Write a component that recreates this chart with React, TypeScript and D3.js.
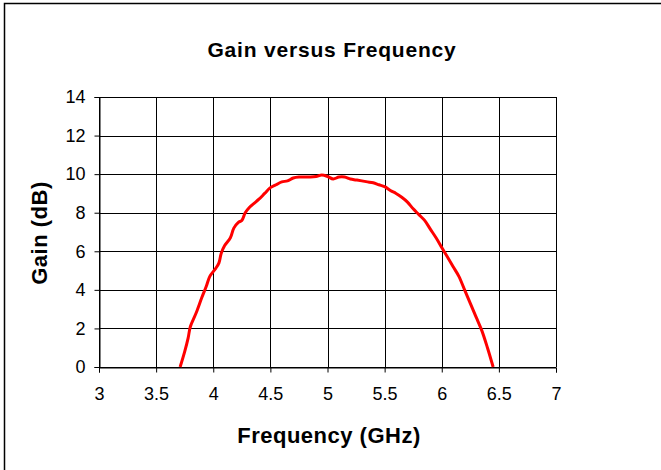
import React, { useEffect, useRef } from "react";
import * as d3 from "d3";

// frequency (GHz) and gain (dB)
const freq = [
  3.71, 3.75, 3.78, 3.8, 3.85, 3.9, 3.94, 3.97, 4.02, 4.05, 4.07, 4.1, 4.15, 4.18, 4.22, 4.25,
  4.28, 4.32, 4.36, 4.4, 4.45, 4.5, 4.55, 4.6, 4.65, 4.7, 4.75, 4.8, 4.85, 4.9, 4.95, 5.0,
  5.05, 5.1, 5.15, 5.2, 5.25, 5.3, 5.35, 5.4, 5.45, 5.5, 5.55, 5.6, 5.65, 5.7, 5.75, 5.8,
  5.85, 5.9, 5.95, 6.0, 6.05, 6.1, 6.15, 6.2, 6.25, 6.3, 6.35, 6.4, 6.45,
];
const gain = [
  0, 0.8, 1.5, 2.1, 2.8, 3.6, 4.2, 4.7, 5.1, 5.4, 5.9, 6.3, 6.7, 7.2, 7.5, 7.6,
  8.0, 8.3, 8.5, 8.7, 9.0, 9.3, 9.45, 9.6, 9.65, 9.8, 9.85, 9.85, 9.85, 9.88, 9.95, 9.88,
  9.75, 9.85, 9.85, 9.75, 9.7, 9.65, 9.6, 9.55, 9.45, 9.35, 9.15, 9.0, 8.8, 8.55, 8.2, 7.9,
  7.6, 7.15, 6.7, 6.2, 5.7, 5.2, 4.7, 4.0, 3.3, 2.6, 1.9, 1.0, 0,
];
const xTicks = [3, 3.5, 4, 4.5, 5, 5.5, 6, 6.5, 7];
const yTicks = [0, 2, 4, 6, 8, 10, 12, 14];

const W = 661, H = 470;
const margin = { left: 99, right: 105, top: 97, bottom: 103 };
const font = "Liberation Sans, Arial, sans-serif";

export default function App() {
  const ref = useRef<SVGSVGElement>(null);

  useEffect(() => {
    const svg = d3.select(ref.current);
    svg.selectAll("*").remove();
    const w = W - margin.left - margin.right;
    const h = H - margin.top - margin.bottom;

    svg.append("rect")
      .attr("x", 4.5).attr("y", 3.5)
      .attr("width", 700).attr("height", 500)
      .attr("fill", "white").attr("stroke", "black").attr("stroke-width", 1.5);

    const g = svg.append("g").attr("transform", `translate(${margin.left},${margin.top})`);

    const x = d3.scaleLinear().domain([3, 7]).range([0, w]);
    const y = d3.scaleLinear().domain([0, 14]).range([h, 0]);

    // grid
    g.selectAll(".vg").data(xTicks).join("line")
      .attr("x1", d => Math.round(x(d)) + 0.5).attr("x2", d => Math.round(x(d)) + 0.5)
      .attr("y1", 0).attr("y2", h)
      .attr("stroke", "#000").attr("stroke-width", 1);
    g.selectAll(".hg").data(yTicks).join("line")
      .attr("y1", d => Math.round(y(d)) + 0.5).attr("y2", d => Math.round(y(d)) + 0.5)
      .attr("x1", 0).attr("x2", w)
      .attr("stroke", "#000").attr("stroke-width", 1);

    const xAxis = g.append("g")
      .attr("transform", `translate(0,${h + 0.5})`)
      .call(d3.axisBottom(x).tickValues(xTicks).tickSize(5).tickPadding(15).tickFormat(d => String(d)));
    const yAxis = g.append("g")
      .attr("transform", "translate(0.5,0)")
      .call(d3.axisLeft(y).tickValues(yTicks).tickSize(5).tickPadding(9).tickFormat(d => String(d)));
    [xAxis, yAxis].forEach(a => {
      a.select(".domain").attr("stroke", "#000");
      a.selectAll("line").attr("stroke", "#000");
      a.selectAll("text")
        .attr("font-family", font)
        .attr("font-size", 18).attr("fill", "#000");
    });

    const line = d3.line<number>()
      .x((_, i) => x(freq[i]))
      .y(d => y(d))
      .curve(d3.curveCatmullRom);
    g.append("path")
      .datum(gain)
      .attr("d", line)
      .attr("fill", "none")
      .attr("stroke", "#ff0000")
      .attr("stroke-width", 3);

    svg.append("text")
      .attr("x", 332).attr("y", 57)
      .attr("text-anchor", "middle")
      .attr("font-family", font)
      .attr("font-weight", "bold").attr("font-size", 21)
      .attr("letter-spacing", 0.8)
      .text("Gain versus Frequency");

    svg.append("text")
      .attr("x", 329).attr("y", 443)
      .attr("text-anchor", "middle")
      .attr("font-family", font)
      .attr("font-weight", "bold").attr("font-size", 22)
      .attr("letter-spacing", 0.5)
      .text("Frequency (GHz)");

    svg.append("text")
      .attr("transform", `translate(47,233) rotate(-90)`)
      .attr("text-anchor", "middle")
      .attr("font-family", font)
      .attr("font-weight", "bold").attr("font-size", 22)
      .attr("letter-spacing", 0.5)
      .text("Gain (dB)");
  }, []);

  return (
    <svg ref={ref} width={W} height={H}
      style={{ position: "absolute", left: 0, top: 0, background: "white" }} />
  );
}
